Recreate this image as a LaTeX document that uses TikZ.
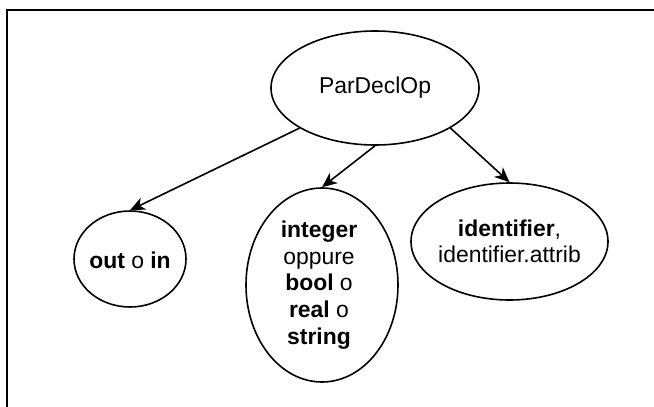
\documentclass[tikz,border=0pt]{standalone}
\usepackage{fontspec}
\setmainfont{Liberation Sans}
\usetikzlibrary{arrows.meta,shapes.geometric}
\tikzset{
  blob/.style={draw, ellipse, line width=1.6pt, inner sep=0pt},
  lbl/.style={align=center, inner sep=0pt, font=\fontsize{22.9}{26.6}\selectfont},
  conn/.style={line width=1.6pt, -{Stealth[length=15pt,width=13pt,inset=4.5pt]}},
}
\begin{document}
\begin{tikzpicture}[x=1pt,y=-1pt]
\useasboundingbox (0,0) rectangle (654,407);
\draw[line width=2pt] (7,408) -- (7,10) -- (655,10);
\node[blob, minimum width=208pt, minimum height=114pt] (p) at (375,88) {};
\node[lbl] (pt) at (p.center) {ParDeclOp};
\node[blob, minimum width=112pt, minimum height=96pt] (o) at (130,259) {};
\node[lbl] (ot) at ([yshift=-1pt]o.center) {\textbf{out} o \textbf{in}};
\node[blob, minimum width=152pt, minimum height=194pt] (t) at (322,285) {};
\node[lbl] (tt) at ([xshift=-3pt]t.center) {\textbf{integer}\\oppure\\\textbf{bool} o\\\textbf{real} o\\\textbf{string}};
\node[blob, minimum width=197pt, minimum height=117pt] (i) at (509.5,241.5) {};
\node[lbl] (it) at (i.center) {\textbf{identifier},\\identifier.attrib};
\draw[conn] (p.208.7) -- (o.north);
\draw[conn] (p.south) -- (t.north);
\draw[conn] (p.332.5) -- (i.north);
\end{tikzpicture}
\end{document}
